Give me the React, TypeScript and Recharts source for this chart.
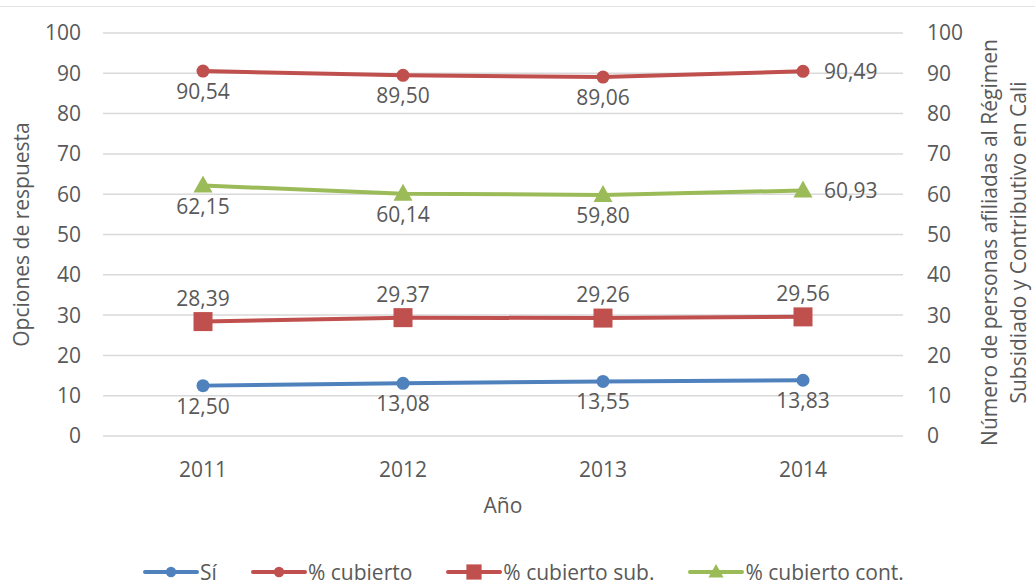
import {
  CartesianGrid,
  Label,
  LabelList,
  Legend,
  Line,
  LineChart,
  XAxis,
  YAxis,
} from "recharts";

const anios = ["2011", "2012", "2013", "2014"];
const si = [12.5, 13.08, 13.55, 13.83];
const cubierto = [90.54, 89.5, 89.06, 90.49];
const cubiertoSub = [28.39, 29.37, 29.26, 29.56];
const cubiertoCont = [62.15, 60.14, 59.8, 60.93];
const ticksY = [0, 10, 20, 30, 40, 50, 60, 70, 80, 90, 100];

const datos = anios.map((anio, i) => ({
  anio,
  si: si[i],
  cubierto: cubierto[i],
  cubiertoSub: cubiertoSub[i],
  cubiertoCont: cubiertoCont[i],
}));

const AZUL = "#4F81BD";
const ROJO = "#C0504D";
const VERDE = "#9BBB59";
const TEXTO = "#595959";
const FUENTE = 21;

type Forma = "circulo" | "cuadrado" | "triangulo";

const Marca = ({
  cx,
  cy,
  forma,
  color,
  k = 1,
}: {
  cx: number;
  cy: number;
  forma: Forma;
  color: string;
  k?: number;
}) => {
  if (forma === "cuadrado")
    return <rect x={cx - 9.5 * k} y={cy - 9.5 * k} width={19 * k} height={19 * k} fill={color} />;
  if (forma === "triangulo")
    return (
      <polygon
        points={`${cx},${cy - 10 * k} ${cx + 9.5 * k},${cy + 7 * k} ${cx - 9.5 * k},${cy + 7 * k}`}
        fill={color}
      />
    );
  return <circle cx={cx} cy={cy} r={6.5 * k} fill={color} />;
};

const punto = (forma: Forma, color: string) => (props: any) => {
  if (props.cx == null || props.cy == null) return <g key={props.index} />;
  return (
    <g key={props.index}>
      <Marca cx={props.cx} cy={props.cy} forma={forma} color={color} />
    </g>
  );
};

const formato = (v: number) => v.toFixed(2).replace(".", ",");

// posicion de cada etiqueta por punto: a = arriba, b = abajo, d = derecha
const etiqueta = (pos: string[], arriba = 24, abajo = 20) => (props: any) => {
  const { x, y, value, index } = props;
  const p = pos[index];
  let tx = x;
  let ty = y;
  let anchor: "middle" | "start" = "middle";
  if (p === "a") ty = y - arriba;
  else if (p === "b") ty = y + abajo;
  else {
    tx = x + 21;
    anchor = "start";
  }
  return (
    <text
      x={tx}
      y={ty}
      fill={TEXTO}
      fontSize={FUENTE}
      textAnchor={anchor}
      dominantBaseline="central"
    >
      {formato(Number(value))}
    </text>
  );
};

const series = [
  { clave: "si", nombre: "Sí", color: AZUL, forma: "circulo" as Forma, eje: "izq" },
  { clave: "cubierto", nombre: "% cubierto", color: ROJO, forma: "circulo" as Forma, eje: "izq" },
  { clave: "cubiertoSub", nombre: "% cubierto sub.", color: ROJO, forma: "cuadrado" as Forma, eje: "der" },
  { clave: "cubiertoCont", nombre: "% cubierto cont.", color: VERDE, forma: "triangulo" as Forma, eje: "der" },
];

const Leyenda = () => (
  <div
    style={{
      display: "flex",
      justifyContent: "center",
      alignItems: "center",
      gap: 34,
      height: 30,
      fontSize: FUENTE,
      color: TEXTO,
      paddingLeft: 12,
    }}
  >
    {series.map((s) => (
      <div key={s.clave} style={{ display: "flex", alignItems: "center" }}>
        <svg width={56} height={24}>
          <line x1={2} y1={12} x2={54} y2={12} stroke={s.color} strokeWidth={4} strokeLinecap="round" />
          <Marca cx={28} cy={12} forma={s.forma} color={s.color} k={0.8} />
        </svg>
        <span style={{ marginLeft: 1 }}>{s.nombre}</span>
      </div>
    ))}
  </div>
);

const TituloDerecho = (props: any) => {
  const { x, y, height } = props.viewBox;
  const cx = x + 86;
  const cy = y + height / 2 + 8;
  return (
    <text
      transform={`translate(${cx},${cy}) rotate(-90)`}
      fill={TEXTO}
      fontSize={FUENTE}
      textAnchor="middle"
      dominantBaseline="central"
    >
      <tspan x={0} dy={0}>Número de personas afiliadas al Régimen</tspan>
      <tspan x={0} dy={29}>Subsidiado y Contributivo en Cali</tspan>
    </text>
  );
};

const TituloIzquierdo = (props: any) => {
  const { x, y, height } = props.viewBox;
  return (
    <text
      transform={`translate(${x + 21},${y + height / 2}) rotate(-90)`}
      fill={TEXTO}
      fontSize={FUENTE}
      textAnchor="middle"
      dominantBaseline="central"
    >
      Opciones de respuesta
    </text>
  );
};

const TituloX = (props: any) => {
  const { x, y, width } = props.viewBox;
  return (
    <text
      x={x + width / 2}
      y={y + 69}
      fill={TEXTO}
      fontSize={FUENTE}
      textAnchor="middle"
      dominantBaseline="central"
    >
      Año
    </text>
  );
};

const posiciones: Record<string, string[]> = {
  si: ["b", "b", "b", "b"],
  cubierto: ["b", "b", "b", "d"],
  cubiertoSub: ["a", "a", "a", "a"],
  cubiertoCont: ["b", "b", "b", "d"],
};

export default function App() {
  return (
    <div
      style={{
        position: "absolute",
        left: 0,
        top: 0,
        width: 1035,
        height: 587,
        background: "#fff",
        fontFamily: "'Open Sans', sans-serif",
      }}
    >
      <div
        style={{ position: "absolute", left: 0, top: 6, width: 1035, height: 1, background: "#e4e4e4" }}
      />
      <LineChart
        width={1035}
        height={587}
        data={datos}
        margin={{ top: 33, right: 0, bottom: 0, left: 0 }}
      >
        <CartesianGrid vertical={false} stroke="#d9d9d9" strokeWidth={1.5} yAxisId="izq" />
        <XAxis
          dataKey="anio"
          height={121}
          padding={{ left: 100, right: 100 }}
          tickSize={0}
          tickMargin={26}
          axisLine={false}
          tick={{ fill: TEXTO, fontSize: FUENTE }}
        >
          <Label content={TituloX} />
        </XAxis>
        <YAxis
          yAxisId="izq"
          width={103}
          domain={[0, 100]}
          ticks={ticksY}
          tickSize={0}
          tickMargin={22}
          axisLine={false}
          tick={{ fill: TEXTO, fontSize: FUENTE }}
        >
          <Label content={TituloIzquierdo} />
        </YAxis>
        <YAxis
          yAxisId="der"
          orientation="right"
          width={132}
          domain={[0, 100]}
          ticks={ticksY}
          tickSize={0}
          tickMargin={24}
          axisLine={false}
          tick={{ fill: TEXTO, fontSize: FUENTE, textAnchor: "start" }}
        >
          <Label content={TituloDerecho} />
        </YAxis>
        <Legend verticalAlign="bottom" content={<Leyenda />} />
        {series.map((s) => (
          <Line
            key={s.clave}
            yAxisId={s.eje}
            dataKey={s.clave}
            name={s.nombre}
            stroke={s.color}
            strokeWidth={4}
            dot={punto(s.forma, s.color)}
            activeDot={false}
            isAnimationActive={false}
          >
            <LabelList dataKey={s.clave} content={etiqueta(posiciones[s.clave])} />
          </Line>
        ))}
      </LineChart>
    </div>
  );
}
